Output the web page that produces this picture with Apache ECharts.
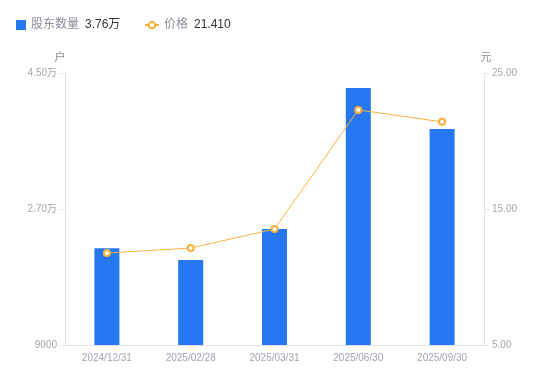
<!DOCTYPE html>
<html><head><meta charset="utf-8">
<script src="https://cdn.jsdelivr.net/npm/echarts@6/dist/echarts.min.js"></script>
<style>html,body{margin:0;padding:0;background:#fff}#c{width:550px;height:381px}</style>
</head><body><div id="c"></div>
<script>
const categories = ['2024/12/31','2025/02/28','2025/03/31','2025/06/30','2025/09/30'];
const holders = [21800, 20250, 24350, 43000, 37600];
const prices = [11.76, 12.13, 13.53, 22.28, 21.41];
const seriesNames = ['股东数量','价格'];
const legendValues = {'股东数量':'3.76万','价格':'21.410'};

const chart = echarts.init(document.getElementById('c'));
const fam = '"Liberation Sans", "Noto Sans CJK SC", sans-serif';
const legendText = {rich:{a:{color:'#8a8d99',fontSize:12,fontFamily:fam,padding:[0,6,0,0]},b:{color:'#333',fontSize:12,fontFamily:fam}}};
const fmt = n => '{a|'+n+'}{b|'+legendValues[n]+'}';
chart.setOption({
  animation:false,
  textStyle:{fontFamily:fam},
  legend:[{
    left:11, top:14, itemWidth:10, itemHeight:10, itemGap:5,
    data:[{name:seriesNames[0], icon:'rect'}],
    formatter: fmt, textStyle: legendText
  },{
    left:139, top:14, itemWidth:14, itemHeight:8, itemGap:5,
    data:[{name:seriesNames[1]}],
    formatter: fmt, textStyle: legendText
  }],
  grid:{left:65, right:66, top:73, bottom:36},
  xAxis:{
    type:'category', data:categories,
    axisLine:{lineStyle:{color:'#e3e3e6'}},
    axisTick:{show:false},
    axisLabel:{color:'#a3a5b0', fontSize:10, margin:8}
  },
  yAxis:[{
    type:'value', min:9000, max:45000, interval:18000,
    name:'户', nameGap:10, nameTextStyle:{color:'#8a8d99',fontSize:11,padding:[0,10,0,0]},
    axisLine:{show:true,lineStyle:{color:'#e3e3e6'}},
    axisTick:{show:true,length:5,lineStyle:{color:'#e3e3e6'}},
    splitLine:{show:false},
    axisLabel:{color:'#a3a5b0',fontSize:10,margin:8,
      formatter:v=> v>=10000 ? (v/10000).toFixed(2)+'万' : String(v)}
  },{
    type:'value', min:5, max:25, interval:10,
    name:'元', nameGap:10, nameTextStyle:{color:'#8a8d99',fontSize:11,padding:[0,0,0,4]},
    axisLine:{show:true,lineStyle:{color:'#e3e3e6'}},
    axisTick:{show:true,length:5,lineStyle:{color:'#e3e3e6'}},
    splitLine:{show:false},
    axisLabel:{color:'#a3a5b0',fontSize:10,margin:8,formatter:v=>v.toFixed(2)}
  }],
  series:[{
    name:seriesNames[0], type:'bar', data:holders, barWidth:25,
    itemStyle:{color:'#2577f2'}
  },{
    name:seriesNames[1], type:'line', yAxisIndex:1, data:prices,
    symbol:'circle', symbolSize:6,
    lineStyle:{color:'#f7b23b',width:1},
    itemStyle:{color:'#fff',borderColor:'#f7b23b',borderWidth:2}
  }]
});
</script></body></html>
